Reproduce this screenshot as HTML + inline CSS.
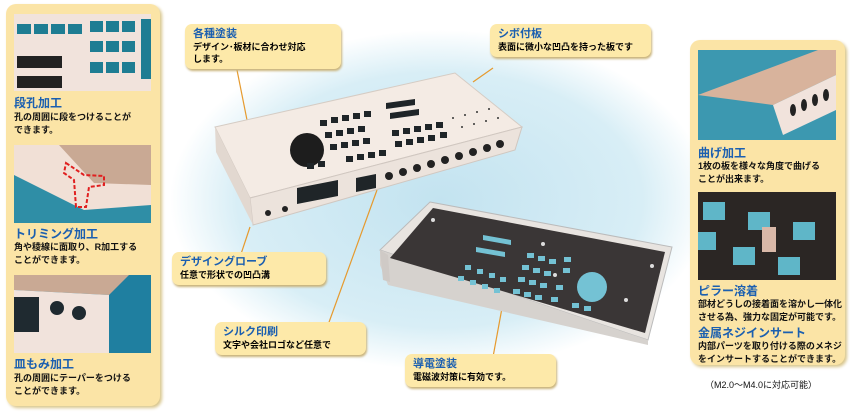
<!DOCTYPE html>
<html><head><meta charset="utf-8"><style>
body{margin:0;width:850px;height:412px;overflow:hidden;background:#fff;font-family:"Liberation Sans","Noto Sans CJK JP",sans-serif;position:relative}
.p{position:absolute;background:#fbe4a6;border-radius:10px;box-shadow:2px 2px 3px #d8c58a}
.t{position:absolute;color:#1b5fb0;font-weight:bold;font-size:12px;line-height:14px}
.d{position:absolute;color:#111;font-size:9px;line-height:13px;font-weight:bold}
.ph{position:absolute}
.c{position:absolute;background:#fde9a9;border-radius:7px;box-shadow:1px 2px 2px #c9b37a;padding:4px 8px}
.c b{color:#1b5fb0;font-size:11px;display:block;line-height:13px}
.c span{font-size:9px;font-weight:bold;line-height:12px;display:block}
</style></head><body>
<svg style="position:absolute;left:0;top:0" width="850" height="412">
<defs><radialGradient id="g" cx="0.5" cy="0.5" r="0.5"><stop offset="0" stop-color="#c3e3f0"/><stop offset="0.75" stop-color="#d8eef6"/><stop offset="1" stop-color="#fff"/></radialGradient></defs>
<ellipse cx="440" cy="200" rx="270" ry="170" fill="url(#g)"/>
<g stroke="#e69a2e" stroke-width="1.2" fill="none">
<line x1="237" y1="70" x2="247" y2="120"/><line x1="493" y1="68" x2="473" y2="82"/>
<line x1="250" y1="227" x2="240" y2="257"/><line x1="377" y1="190" x2="328" y2="325"/>
<line x1="502" y1="308" x2="493" y2="357"/>
</g>
<!-- enclosure -->
<polygon points="215,127 455,73 522,127 250,198" fill="#f4ebe4" stroke="#d5ccc4"/>
<polygon points="250,198 522,127 515,150 253,225" fill="#ece3dc" stroke="#d0c7c0"/>
<polygon points="215,127 250,198 253,225 216,152" fill="#e2d8d0"/>
<circle cx="307" cy="150" r="17" fill="#1d1d1d"/>
<g fill="#1f2528">
<rect x="320" y="120" width="7" height="6"/><rect x="331" y="117" width="7" height="6"/><rect x="342" y="115" width="7" height="6"/><rect x="353" y="113" width="7" height="6"/><rect x="364" y="111" width="7" height="6"/>
<rect x="325" y="132" width="7" height="6"/><rect x="336" y="130" width="7" height="6"/><rect x="347" y="128" width="7" height="6"/><rect x="358" y="126" width="7" height="6"/><rect x="392" y="130" width="7" height="6"/><rect x="403" y="128" width="7" height="6"/><rect x="414" y="126" width="7" height="6"/><rect x="425" y="124" width="7" height="6"/><rect x="436" y="122" width="7" height="6"/>
<rect x="330" y="144" width="7" height="6"/><rect x="341" y="142" width="7" height="6"/><rect x="352" y="140" width="7" height="6"/><rect x="363" y="138" width="7" height="6"/><rect x="395" y="141" width="7" height="6"/><rect x="406" y="139" width="7" height="6"/><rect x="417" y="137" width="7" height="6"/><rect x="428" y="135" width="7" height="6"/><rect x="440" y="132" width="7" height="6"/>
<rect x="346" y="156" width="7" height="6"/><rect x="357" y="154" width="7" height="6"/><rect x="368" y="152" width="7" height="6"/><rect x="379" y="150" width="7" height="6"/>
<rect x="307" y="163" width="7" height="6"/><rect x="318" y="161" width="7" height="6"/>
<polygon points="386,103 415,99 415,105 386,109"/><polygon points="390,113 419,109 419,115 390,119"/>
<polygon points="297,188 338,180 338,196 297,204"/><polygon points="356,178 376,174 376,188 356,192"/>
</g>
<g fill="#222"><circle cx="389" cy="176" r="4"/><circle cx="403" cy="172" r="4"/><circle cx="417" cy="168" r="4"/><circle cx="431" cy="164" r="4"/><circle cx="445" cy="160" r="4"/><circle cx="459" cy="156" r="4"/><circle cx="473" cy="152" r="4"/><circle cx="487" cy="148" r="4"/><circle cx="500" cy="144" r="4"/><circle cx="268" cy="213" r="3"/><circle cx="285" cy="209" r="3"/></g>
<g fill="#333"><circle cx="453" cy="118" r="1"/><circle cx="465" cy="115" r="1"/><circle cx="477" cy="112" r="1"/><circle cx="489" cy="109" r="1"/><circle cx="462" cy="127" r="1"/><circle cx="474" cy="124" r="1"/><circle cx="486" cy="121" r="1"/><circle cx="498" cy="118" r="1"/></g>
<!-- tray -->
<polygon points="430,202 672,247 648,340 380,250" fill="#e8e4e0" stroke="#bbb"/>
<polygon points="380,250 648,340 648,345 388,285 380,265" fill="#d6d2ce"/>
<polygon points="433,208 665,252 645,333 390,258" fill="#3a3636"/>
<polygon points="380,250 388,255 390,282 383,280" fill="#cfcac6"/>
<g fill="#74c2d4">
<polygon points="483,235 511,240 511,245 483,240"/><polygon points="476,247 505,252 505,257 476,252"/>
<rect x="465" y="265" width="6" height="5"/><rect x="477" y="269" width="6" height="5"/><rect x="489" y="273" width="6" height="5"/><rect x="500" y="277" width="6" height="5"/>
<rect x="458" y="276" width="6" height="5"/><rect x="470" y="280" width="6" height="5"/><rect x="482" y="284" width="6" height="5"/><rect x="494" y="288" width="6" height="5"/>
<rect x="527" y="253" width="7" height="5"/><rect x="538" y="256" width="7" height="5"/><rect x="549" y="259" width="7" height="5"/><rect x="564" y="257" width="7" height="5"/>
<rect x="522" y="265" width="7" height="5"/><rect x="533" y="268" width="7" height="5"/><rect x="544" y="271" width="7" height="5"/><rect x="563" y="268" width="7" height="5"/>
<rect x="518" y="277" width="7" height="5"/><rect x="529" y="280" width="7" height="5"/><rect x="540" y="283" width="7" height="5"/><rect x="556" y="285" width="7" height="5"/>
<rect x="513" y="289" width="7" height="5"/><rect x="524" y="292" width="7" height="5"/><rect x="535" y="295" width="7" height="5"/><rect x="551" y="297" width="7" height="5"/>
<rect x="572" y="303" width="7" height="5"/><rect x="584" y="306" width="7" height="5"/>
<circle cx="592" cy="287" r="15"/>
</g>
<g fill="#ddd"><circle cx="433" cy="220" r="2"/><circle cx="543" cy="244" r="2"/><circle cx="652" cy="266" r="2"/><circle cx="626" cy="300" r="2"/><circle cx="555" cy="275" r="2"/></g>
</svg>

<div class="p" style="left:6px;top:4px;width:154px;height:402px"></div>
<svg class="ph" style="left:14px;top:14px" width="137" height="77"><rect width="137" height="77" fill="#f1e3dc"/><g fill="#1e7d93"><rect x="3" y="10" width="14" height="10"/><rect x="20" y="10" width="14" height="10"/><rect x="37" y="10" width="14" height="10"/><rect x="54" y="10" width="14" height="10"/><rect x="76" y="7" width="13" height="11"/><rect x="92" y="7" width="13" height="11"/><rect x="108" y="7" width="13" height="11"/><rect x="76" y="27" width="13" height="11"/><rect x="92" y="27" width="13" height="11"/><rect x="108" y="27" width="13" height="11"/><rect x="76" y="48" width="13" height="11"/><rect x="92" y="48" width="13" height="11"/><rect x="108" y="48" width="13" height="11"/><rect x="127" y="5" width="10" height="60"/></g><rect x="3" y="42" width="45" height="12" fill="#222"/><rect x="3" y="62" width="45" height="12" fill="#222"/></svg>
<div class="t" style="left:14px;top:96px">段孔加工</div>
<div class="d" style="left:14px;top:111px">孔の周囲に段をつけることが<br>できます。</div>
<svg class="ph" style="left:14px;top:145px" width="137" height="78"><rect width="137" height="78" fill="#2f8ea6"/><polygon points="0,0 137,0 137,60 70,65 0,30" fill="#f1e0d6"/><polygon points="45,0 137,0 137,40 80,38" fill="#c9a994"/><path d="M52,18 L70,30 L90,31 L90,40 L75,42 L72,62 L62,62 L60,35 L50,28Z" fill="none" stroke="#e02020" stroke-width="2" stroke-dasharray="4,2"/></svg>
<div class="t" style="left:14px;top:227px">トリミング加工</div>
<div class="d" style="left:14px;top:241px">角や稜線に面取り、R加工する<br>ことができます。</div>
<svg class="ph" style="left:14px;top:275px" width="137" height="78"><rect width="137" height="78" fill="#1f7fa0"/><polygon points="0,0 115,0 95,20 0,15" fill="#c9a994"/><polygon points="0,15 95,20 95,78 0,78" fill="#f1e3dc"/><rect x="0" y="22" width="25" height="35" fill="#1f2a30"/><circle cx="43" cy="33" r="7" fill="#1f2a30"/><circle cx="65" cy="38" r="7" fill="#1f2a30"/></svg>
<div class="t" style="left:14px;top:357px">皿もみ加工</div>
<div class="d" style="left:14px;top:372px">孔の周囲にテーパーをつける<br>ことができます。</div>

<div class="p" style="left:690px;top:40px;width:155px;height:325px"></div>
<svg class="ph" style="left:698px;top:50px" width="138" height="90"><rect width="138" height="90" fill="#3c98b0"/><polygon points="0,45 120,0 138,0 138,25 75,55" fill="#d8b39c"/><polygon points="75,55 138,25 138,60 85,85" fill="#f1e3dc"/><g fill="#222"><ellipse cx="95" cy="60" rx="3" ry="6"/><ellipse cx="106" cy="55" rx="3" ry="6"/><ellipse cx="117" cy="50" rx="3" ry="6"/><ellipse cx="128" cy="45" rx="3" ry="6"/></g></svg>
<div class="t" style="left:698px;top:146px">曲げ加工</div>
<div class="d" style="left:698px;top:160px">1枚の板を様々な角度で曲げる<br>ことが出来ます。</div>
<svg class="ph" style="left:698px;top:192px" width="138" height="88"><rect width="138" height="88" fill="#2b2624"/><g fill="#5fb6c8"><rect x="5" y="10" width="22" height="18"/><rect x="50" y="20" width="22" height="18"/><rect x="95" y="30" width="22" height="18"/><rect x="0" y="40" width="18" height="18"/><rect x="35" y="55" width="22" height="18"/><rect x="80" y="65" width="22" height="18"/></g><rect x="64" y="35" width="14" height="25" fill="#d9b8a8"/></svg>
<div class="t" style="left:698px;top:284px">ピラー溶着</div>
<div class="d" style="left:698px;top:298px">部材どうしの接着面を溶かし一体化<br>させる為、強力な固定が可能です。</div>
<div class="t" style="left:698px;top:326px">金属ネジインサート</div>
<div class="d" style="left:698px;top:340px">内部パーツを取り付ける際のメネジ<br>をインサートすることができます。</div>
<div class="d" style="left:705px;top:379px;font-weight:normal">（M2.0〜M4.0に対応可能）</div>

<div class="c" style="left:185px;top:24px;width:140px"><b>各種塗装</b><span>デザイン･板材に合わせ対応<br>します。</span></div>
<div class="c" style="left:490px;top:24px;width:145px"><b>シボ付板</b><span>表面に微小な凹凸を持った板です</span></div>
<div class="c" style="left:172px;top:252px;width:138px"><b>デザイングローブ</b><span>任意で形状での凹凸溝</span></div>
<div class="c" style="left:215px;top:322px;width:135px"><b>シルク印刷</b><span>文字や会社ロゴなど任意で</span></div>
<div class="c" style="left:405px;top:354px;width:135px"><b>導電塗装</b><span>電磁波対策に有効です。</span></div>
</body></html>
